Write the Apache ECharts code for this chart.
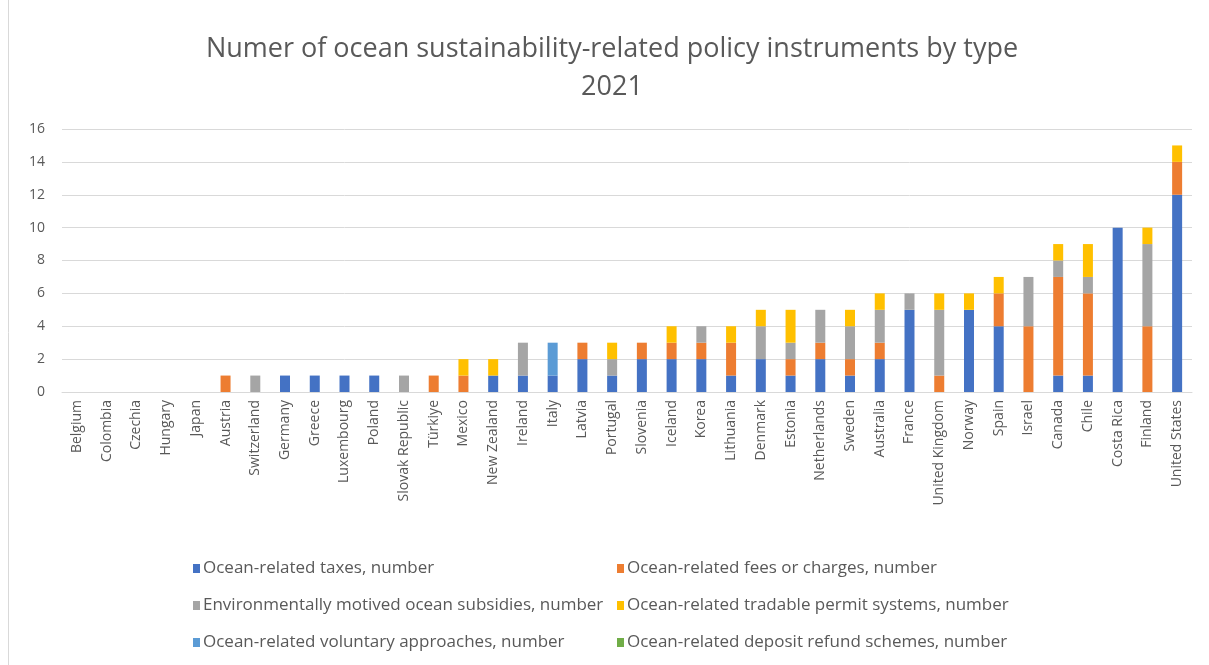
<!DOCTYPE html>
<html>
<head>
<meta charset="utf-8">
<script src="https://cdn.jsdelivr.net/npm/echarts@6/dist/echarts.min.js"></script>
<style>
  html, body { margin: 0; padding: 0; background: #fff; }
  #main { width: 1209px; height: 665px; }
</style>
</head>
<body>
<div id="main"></div>
<script>
// 国家（x轴）
var countries = ['Belgium', 'Colombia', 'Czechia', 'Hungary', 'Japan', 'Austria', 'Switzerland', 'Germany',
    'Greece', 'Luxembourg', 'Poland', 'Slovak Republic', 'Türkiye', 'Mexico', 'New Zealand', 'Ireland',
    'Italy', 'Latvia', 'Portugal', 'Slovenia', 'Iceland', 'Korea', 'Lithuania', 'Denmark', 'Estonia',
    'Netherlands', 'Sweden', 'Australia', 'France', 'United Kingdom', 'Norway', 'Spain', 'Israel',
    'Canada', 'Chile', 'Costa Rica', 'Finland', 'United States'];

var taxes      = [0,0,0,0,0, 0,0,1,1,1,1,0,0, 0,1,1,1,2,1,2,2,2,1,2,1,2,1,2,5,0,5,4,0,1,1,10,0,12];
var fees       = [0,0,0,0,0, 1,0,0,0,0,0,0,1, 1,0,0,0,1,0,1,1,1,2,0,1,1,1,1,0,1,0,2,4,6,5,0,4,2];
var subsidies  = [0,0,0,0,0, 0,1,0,0,0,0,1,0, 0,0,2,0,0,1,0,0,1,0,2,1,2,2,2,1,4,0,0,3,1,1,0,5,0];
var tradable   = [0,0,0,0,0, 0,0,0,0,0,0,0,0, 1,1,0,0,0,1,0,1,0,1,1,2,0,1,1,0,1,1,1,0,1,2,0,1,1];
var voluntary  = [0,0,0,0,0, 0,0,0,0,0,0,0,0, 0,0,0,2,0,0,0,0,0,0,0,0,0,0,0,0,0,0,0,0,0,0,0,0,0];
var deposit    = [0,0,0,0,0, 0,0,0,0,0,0,0,0, 0,0,0,0,0,0,0,0,0,0,0,0,0,0,0,0,0,0,0,0,0,0,0,0,0];

var seriesNames = [
    'Ocean-related taxes, number',
    'Ocean-related fees or charges, number',
    'Environmentally motived ocean subsidies, number',
    'Ocean-related tradable permit systems, number',
    'Ocean-related voluntary approaches, number',
    'Ocean-related deposit refund schemes, number'
];
var seriesData = [taxes, fees, subsidies, tradable, voluntary, deposit];
var colors = ['#4472C4', '#ED7D31', '#A5A5A5', '#FFC000', '#5B9BD5', '#70AD47'];

var font = '"Open Sans"';
var textColor = '#595959';

var myChart = echarts.init(document.getElementById('main'));

// 图例位置：两列三行
var legendPos = [[188, 555], [612, 555], [188, 592], [612, 592], [188, 629], [612, 629]];
var legends = seriesNames.map(function (name, i) {
    return {
        data: [name],
        left: legendPos[i][0],
        top: legendPos[i][1],
        itemWidth: 7,
        itemHeight: 9,
        itemGap: 4,
        icon: 'rect',
        selectedMode: false,
        textStyle: { color: textColor, fontFamily: font, fontSize: 17, padding: [0, 0, 0, -2] }
    };
});

var series = seriesNames.map(function (name, i) {
    return {
        name: name,
        type: 'bar',
        stack: 'total',
        barWidth: 10,
        itemStyle: { color: colors[i] },
        data: seriesData[i]
    };
});

var option = {
    animation: false,
    color: colors,
    title: {
        text: 'Numer of ocean sustainability-related policy instruments by type\n2021',
        left: 607,
        top: 25,
        textAlign: 'center',
        textStyle: {
            color: textColor,
            fontFamily: font,
            fontWeight: 'normal',
            fontSize: 27,
            lineHeight: 38
        }
    },
    graphic: [{
        type: 'line',
        shape: { x1: 8.5, y1: 0, x2: 8.5, y2: 665 },
        style: { stroke: '#d9d9d9', lineWidth: 1 }
    }],
    legend: legends,
    grid: { left: 62, right: 17, top: 129, bottom: 273, containLabel: false },
    xAxis: {
        type: 'category',
        data: countries,
        axisLine: { lineStyle: { color: '#d9d9d9' } },
        axisTick: { show: false },
        axisLabel: {
            rotate: 90,
            interval: 0,
            margin: 8,
            color: textColor,
            fontFamily: font,
            fontSize: 14
        }
    },
    yAxis: {
        type: 'value',
        min: 0,
        max: 16,
        interval: 2,
        axisLine: { show: false },
        axisTick: { show: false },
        splitLine: { lineStyle: { color: '#d9d9d9' } },
        axisLabel: { color: textColor, fontFamily: font, fontSize: 14, margin: 17 }
    },
    series: series
};

myChart.setOption(option);
</script>
</body>
</html>
